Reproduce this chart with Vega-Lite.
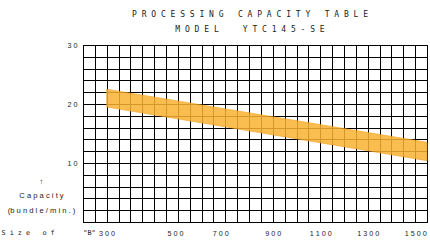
{
  "$schema": "https://vega.github.io/schema/vega-lite/v6.json",
  "autosize": "none",
  "width": 344,
  "height": 177,
  "padding": {"left": 83, "top": 45, "right": 3, "bottom": 18},
  "background": "white",
  "title": {
    "text": ["P R O C E S S I N G \u00a0 C A P A C I T Y \u00a0 T A B L E", "M O D E L \u00a0 \u00a0 Y T C 1 4 5 - S E"],
    "font": "DejaVu Sans Mono",
    "fontSize": 8,
    "fontWeight": "normal",
    "color": "#222",
    "lineHeight": 15,
    "anchor": "middle",
    "dx": -5,
    "offset": 7
  },
  "config": {
    "view": {"stroke": "#000", "strokeWidth": 1}
  },
  "data": {
    "values": [
      {"size": 200, "upper": 22.5, "lower": 19.5},
      {"size": 1550, "upper": 13.5, "lower": 10.4}
    ]
  },
  "mark": {"type": "area", "color": "#F9B232", "opacity": 0.85, "stroke": "#F5A020", "strokeWidth": 0.8},
  "encoding": {
    "x": {
      "field": "size",
      "type": "quantitative",
      "scale": {"domain": [100, 1550], "nice": false, "zero": false},
      "axis": {
        "values": [100,150,200,250,300,350,400,450,500,550,600,650,700,750,800,850,900,950,1000,1050,1100,1150,1200,1250,1300,1350,1400,1450,1500,1550],
        "format": "d",
        "labelExpr": "datum.value >= 300 && (datum.value - 300) % 200 == 0 ? join(split(datum.label, ''), '\u00a0') : ''",
        "labelOffset": {"expr": "datum.value == 300 ? -24 : datum.value == 500 ? -3 : datum.value == 700 ? -5 : 0"},
        "labelFont": "Liberation Sans",
        "labelFontSize": 7.2,
        "labelColor": "#222",
        "labelPadding": 7,
        "labelFlush": false,
        "labelOverlap": false,
        "ticks": false,
        "domain": false,
        "grid": true,
        "gridColor": "#000",
        "gridOpacity": 1,
        "gridWidth": 1,
        "title": "S i z e \u00a0 o f \u00a0 \u00a0 \u00a0 \"B\"",
        "titleFont": "DejaVu Sans Mono",
        "titleFontSize": 6.8,
        "titleFontWeight": "normal",
        "titleColor": "#222",
        "titleAnchor": "start",
        "titleAlign": "left",
        "titleX": -82,
        "titleY": 10.5,
        "titleBaseline": "middle"
      }
    },
    "y": {
      "field": "upper",
      "type": "quantitative",
      "scale": {"domain": [0, 30], "nice": false},
      "axis": {
        "values": [0,2,4,6,8,10,12,14,16,18,20,22,24,26,28,30],
        "labelExpr": "datum.value > 0 && datum.value % 10 == 0 ? join(split(datum.label, ''), '\u00a0') : ''",
        "labelFont": "Liberation Sans",
        "labelFontSize": 7.2,
        "labelColor": "#222",
        "labelPadding": 6,
        "labelFlush": false,
        "labelOverlap": false,
        "ticks": false,
        "domain": false,
        "grid": true,
        "gridColor": "#000",
        "gridOpacity": 1,
        "gridWidth": 1,
        "title": ["\u2191", "C a p a c i t y", "(b u n d l e / m i n . )"],
        "titleFont": "Liberation Sans",
        "titleFontSize": 7.6,
        "titleFontWeight": "normal",
        "titleColor": "#222",
        "titleAngle": 0,
        "titleAlign": "center",
        "titleBaseline": "top",
        "titleLineHeight": 14.5,
        "titleX": -42,
        "titleY": 132
      }
    },
    "y2": {"field": "lower"}
  }
}
